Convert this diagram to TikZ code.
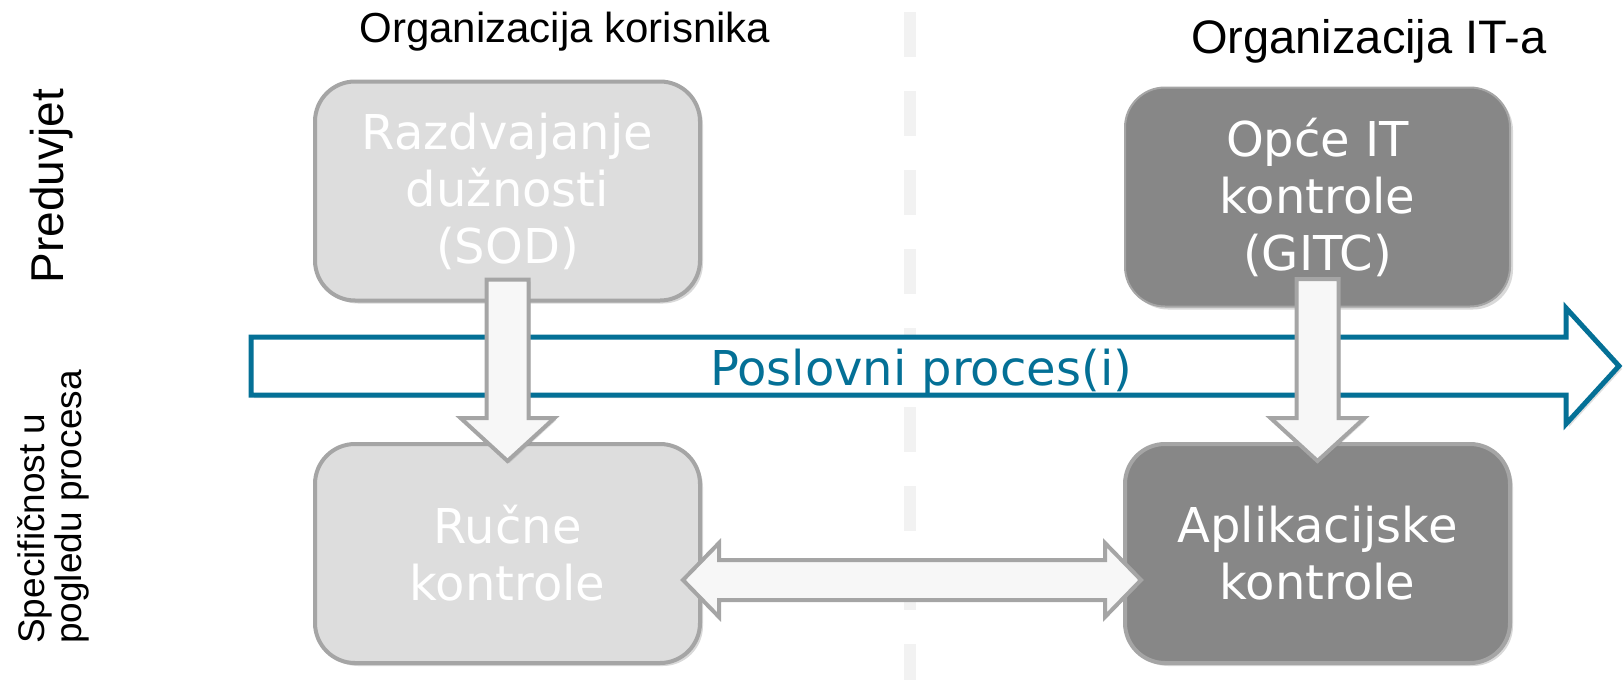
\documentclass[tikz,border=0pt]{standalone}
\usepackage{fontspec}
\setmainfont{Liberation Sans}
\newfontfamily\boxfont{DejaVu Sans}
\usetikzlibrary{shapes,arrows,positioning,calc,shadows}

\definecolor{procblue}{RGB}{4,112,150}
\definecolor{boxlight}{RGB}{221,221,221}
\definecolor{boxdark}{RGB}{135,135,135}
\definecolor{boxline}{RGB}{165,165,165}
\definecolor{arrowfill}{RGB}{247,247,247}
\definecolor{divider}{RGB}{242,242,242}

\tikzset{
  ctrlbox/.style={draw=boxline, line width=2pt, rounded corners=20pt,
    minimum width=192.5pt, minimum height=109.5pt, inner sep=0pt,
    align=center, text=white, font=\boxfont\fontsize{24}{28.5}\selectfont,
    drop shadow={shadow xshift=1.5pt, shadow yshift=-1.5pt, opacity=0.3}},
  lightbox/.style={ctrlbox, fill=boxlight},
  darkbox/.style={ctrlbox, fill=boxdark},
  greyarrow/.style={draw=boxline, line width=2pt, fill=arrowfill,
    drop shadow={shadow xshift=1pt, shadow yshift=-1pt, opacity=0.25}},
  sidelabel/.style={rotate=90, align=left},
}

\begin{document}
\begin{tikzpicture}[x=0.5pt,y=-0.5pt]
  \useasboundingbox (0,0) rectangle (1624,680);
  %divider
  \draw[divider, line width=6pt, dash pattern=on 22.5pt off 17pt] (910,12) -- (910,680);

  %titles
  \node[anchor=base, font=\fontsize{21}{25}\selectfont] (orgkor) at (565,42) {Organizacija korisnika};
  \node[anchor=base, font=\fontsize{23.5}{28}\selectfont] (orgit) at (1369,54) {Organizacija IT-a};
  \node[sidelabel, font=\fontsize{23}{28}\selectfont] (preduvjet) at (52,186) {Preduvjet};
  \node[sidelabel, font=\fontsize{18.5}{18.5}\selectfont] (specif) at (53,507) {Specifičnost u\\pogledu procesa};

  %boxes
  \node[lightbox] (sod) at (507.5,191) {Razdvajanje\\dužnosti\\(SOD)};
  \node[darkbox, line width=1pt] (gitc) at (1317.5,197) {Opće IT\\kontrole\\(GITC)};
  \node[lightbox] (rucne) at (507.5,553.5) {Ručne\\kontrole};
  \node[darkbox] (aplik) at (1317.5,553.5) {Aplikacijske\\kontrole};

  %process arrow
  \coordinate (pstart) at (251,366);
  \coordinate (ptip) at (1619,366);
  \draw[procblue, line width=2.5pt, fill=white,
    drop shadow={shadow xshift=1.5pt, shadow yshift=-1.5pt, opacity=0.25}]
    ($(pstart)+(0,-29)$) -- (1566,337) -- (1566,308) -- (ptip)
    -- (1566,424) -- (1566,395) -- ($(pstart)+(0,29)$) -- cycle;
  \node[anchor=base, text=procblue, font=\boxfont\fontsize{24}{28}\selectfont] (proces) at (921,385) {Poslovni proces(i)};

  %down arrows
  \coordinate (sodtop) at ($(sod.south)+(0,-23)$);
  \coordinate (rucnetip) at ($(rucne.north)+(0,19)$);
  \draw[greyarrow] ($(sodtop)+(-21,0)$) -- ($(sodtop)+(21,0)$) -- ($(rucnetip)+(21,-43)$)
    -- ($(rucnetip)+(47,-43)$) -- (rucnetip) -- ($(rucnetip)+(-47,-43)$)
    -- ($(rucnetip)+(-21,-43)$) -- cycle;
  \coordinate (gitctop) at ($(gitc.south)+(0,-28.5)$);
  \coordinate (apliktip) at ($(aplik.north)+(0,19)$);
  \draw[greyarrow] ($(gitctop)+(-21,0)$) -- ($(gitctop)+(21,0)$) -- ($(apliktip)+(21,-43)$)
    -- ($(apliktip)+(47,-43)$) -- (apliktip) -- ($(apliktip)+(-47,-43)$)
    -- ($(apliktip)+(-21,-43)$) -- cycle;

  %double arrow
  \coordinate (dl) at ($(rucne.east)+(-19,26.5)$);
  \coordinate (dr) at ($(aplik.west)+(18,26.5)$);
  \draw[draw=boxline, line width=2pt, fill=arrowfill]
    (dl) -- ++(36,-37) -- ++(0,17) -- ($(dr)+(-36,-20)$) -- ++(0,-17) -- (dr)
    -- ++(-36,37) -- ++(0,-17) -- ($(dl)+(36,20)$) -- ++(0,17) -- cycle;
\end{tikzpicture}
\end{document}
